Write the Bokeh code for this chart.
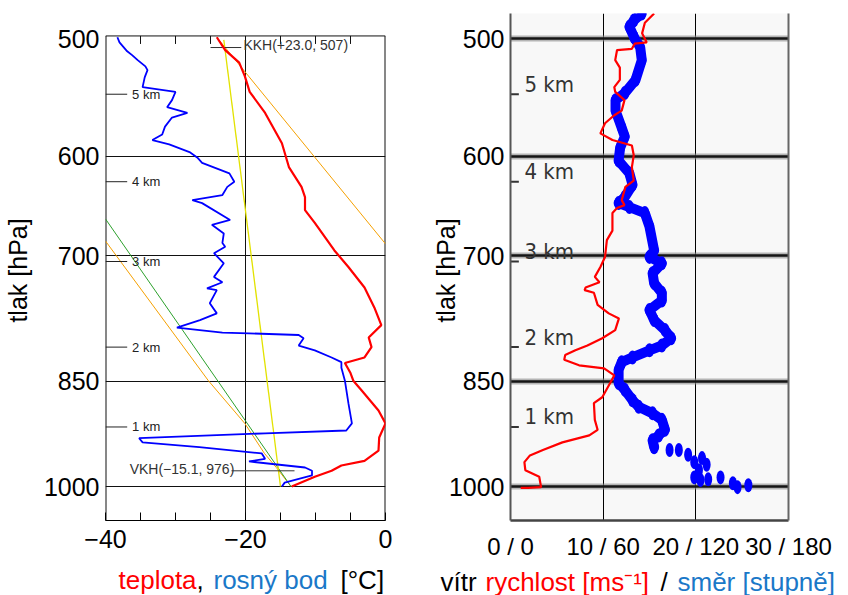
import numpy as np
from bokeh.plotting import figure
from bokeh.layouts import row, column
from bokeh.models import Range1d, FixedTicker, LinearAxis, Grid, BasicTickFormatter
from bokeh.core.properties import value
from bokeh.embed import file_html
from bokeh.resources import INLINE

FONT = "Liberation Sans"

# ---------------- data ----------------
pressure_ticks = [500, 600, 700, 850, 1000]
temp_ticks = [-40, -20, 0]
temp_tick_labels = ["\u221240", "\u221220", "0"]
temp_minor_ticks = [-35, -30, -25, -15, -10, -5]
wind_ticks = [0, 10, 20, 30]
wind_tick_labels = ["0 / 0", "10 / 60", "20 / 120", "30 / 180"]
height_labels = ["5 km", "4 km", "3 km", "2 km", "1 km"]
height_p = [545, 624, 706, 806, 912]

# temperature (teplota)
temp_p = [1000, 985, 976, 968, 961, 946, 927, 907, 889, 862, 849, 839, 826, 819, 806, 794,
          779, 758, 735, 712, 694, 665, 652, 639, 629, 610, 588, 561, 543, 530, 519, 509, 499]
temp_T = [-13.4, -10.1, -7.7, -6.3, -3.0, -1.0, -0.9, 0.0, -1.0, -3.4, -4.6, -5.0, -5.8, -3.0, -2.0, -2.4,
          -0.6, -1.6, -3.0, -5.3, -7.3, -10.1, -11.5, -11.5, -12.0, -13.8, -14.8, -17.2, -19.4, -20.1, -20.9, -22.9, -24.1]

# dew point (rosny bod)
dew_p = [1000, 994, 983, 976, 971, 962, 958, 950, 941, 934, 928, 921, 917, 907, 879, 849, 832, 825,
         819, 810, 804, 795, 791, 789, 788, 782, 773, 765, 753, 738, 736, 729, 723, 708, 697, 690,
         686, 676, 667, 662, 645, 642, 637, 629, 624, 616, 606, 601, 596, 589, 585, 580, 573, 565,
         561, 556, 550, 543, 539, 531, 525, 522, 517, 513, 510, 503, 499]
dew_T = [-14.8, -14.4, -10.5, -10.5, -11.5, -19.5, -17.2, -17.7, -26.6, -34.7, -35.2, -17.2, -5.6, -4.8, -5.3, -5.8, -6.3, -6.3,
         -7.7, -10.1, -12.4, -11.7, -12.4, -19.5, -23.3, -29.8, -26.5, -24.1, -25.1, -24.1, -25.5, -23.3, -24.5, -23.1, -24.5, -22.9,
         -23.3, -23.1, -24.8, -22.2, -26.2, -27.6, -23.3, -22.6, -21.6, -22.3, -26.2, -26.9, -28.0, -30.9, -33.3, -31.9, -31.5, -30.5,
         -28.3, -31.2, -30.5, -30.0, -34.7, -34.4, -34.0, -34.3, -35.4, -36.2, -36.9, -38.0, -38.3]

dry_p = [1000, 661]
dry_T = [-13.5, -40.0]
mix_p = [1000, 501]
mix_T = [-15.0, -23.1]
moist_low_p = [1000, 971, 950, 907, 849, 684]
moist_low_T = [-13.5, -15.6, -17.3, -20.1, -25.3, -40.0]
moist_up_p = [501, 687]
moist_up_T = [-23.8, 0.0]

kkh_text = "KKH(+23.0, 507)"
kkh_p = 507
kkh_T = [-25.0, -20.6]
vkh_text = "VKH(\u221215.1, 976)"
vkh_p = 976
vkh_T = [-22.0, -13.0]

# wind speed (rychlost, m/s)
wind_p = [481, 488, 496, 503, 504, 508, 509, 517, 523, 533, 539, 543, 550, 559, 563, 570, 579, 585,
          590, 599, 610, 623, 629, 642, 647, 650, 655, 673, 683, 701, 712, 723, 729, 735, 738, 741,
          755, 765, 771, 785, 795, 804, 810, 816, 822, 829, 833, 842, 851, 871, 879, 902, 916, 924,
          934, 945, 953, 963, 975, 985, 1001, 1002, 1002]
wind_speed = [15.5, 14.5, 14.2, 14.7, 13.4, 13.1, 11.5, 11.3, 11.8, 11.8, 11.2, 11.3, 12.3, 12.0, 11.2, 10.2, 9.7, 11.0,
              13.1, 13.3, 13.1, 13.3, 12.4, 12.0, 12.3, 11.5, 11.0, 11.0, 10.4, 10.2, 9.7, 9.1, 9.6, 8.1, 8.0, 9.0,
              9.4, 10.6, 11.7, 11.3, 9.9, 8.3, 7.0, 5.9, 5.8, 7.4, 10.1, 11.2, 10.8, 9.9, 9.0, 9.1, 9.4, 8.5,
              5.6, 3.5, 2.1, 1.5, 1.6, 3.1, 3.3, 1.9, 1.1]

# wind direction (smer, degrees) - continuous band and separate points
dir_band_p = [481, 486, 491, 499, 507, 517, 533, 544, 550, 559, 574, 582, 592, 604, 616, 627, 639, 645,
              649, 655, 669, 694, 701, 708, 719, 730, 741, 750, 761, 773, 785, 795, 804, 810, 819, 825,
              835, 852, 861, 875, 884, 893, 902, 916, 924, 931, 941]
dir_band_deg = [85, 80, 77, 80, 84, 85, 81, 74, 68, 68, 72, 74, 71, 70, 77, 79, 74, 70,
                77, 87, 90, 93, 90, 98, 92, 93, 98, 98, 90, 93, 100, 104, 98, 90, 79, 72,
                70, 70, 74, 79, 83, 92, 98, 100, 96, 92, 93]
dir_pts_p = [945, 945, 952, 963, 957, 967, 975, 986, 990, 989, 986, 995, 1001, 998]
dir_pts_deg = [103, 109, 115, 119, 124, 127, 122, 119, 123, 128, 136, 144, 147, 154]

# left panel box (pressure limits of the temperature diagram)
box_top_p = 498
box_bottom_p = 1054

RED = "#ff0000"
BLUE = "#0000ff"
TBLUE = "#1a78c8"

P_RANGE = (1054, 481)
PX_PER_LN = 646.3  # pixels per unit of ln(p) on both panels

# ---------------- left panel ----------------
p1 = figure(width=428, height=565, x_range=Range1d(-40, 0), y_range=Range1d(*P_RANGE),
            y_axis_type="log", output_backend="svg", toolbar_location=None, title=None,
            min_border_left=103, min_border_right=43, min_border_top=13, min_border_bottom=45)
p1.background_fill_color = "white"
p1.border_fill_color = "white"
p1.outline_line_color = None

p1.xaxis.ticker = FixedTicker(ticks=temp_ticks, minor_ticks=temp_minor_ticks)
p1.xaxis.major_label_overrides = dict(zip(temp_ticks, temp_tick_labels))
p1.xaxis.major_tick_in = 8
p1.xaxis.major_tick_out = 0
p1.xaxis.minor_tick_in = 8
p1.xaxis.minor_tick_out = 0
p1.xaxis.major_label_text_font = FONT
p1.xaxis.major_label_text_font_size = "25px"
p1.xaxis.major_label_text_color = "black"
p1.xaxis.major_label_standoff = 9
p1.xaxis.axis_line_color = "black"

p1.yaxis.ticker = FixedTicker(ticks=pressure_ticks)
p1.yaxis.formatter = BasicTickFormatter()
p1.yaxis.major_tick_in = 0
p1.yaxis.major_tick_out = 0
p1.yaxis.minor_tick_line_color = None
p1.yaxis.major_label_text_font = FONT
p1.yaxis.major_label_text_font_size = "25px"
p1.yaxis.major_label_text_color = "black"
p1.yaxis.major_label_standoff = 6
p1.yaxis.axis_line_color = None
p1.yaxis.axis_label = "tlak  [hPa]"
p1.yaxis.axis_label_text_font = FONT
p1.yaxis.axis_label_text_font_size = "25px"
p1.yaxis.axis_label_text_font_style = "normal"
p1.yaxis.axis_label_text_color = "black"
p1.yaxis.axis_label_standoff = 9

p1.xgrid.visible = False
p1.ygrid.ticker = FixedTicker(ticks=pressure_ticks[1:])
p1.ygrid.grid_line_color = "#111111"
p1.ygrid.grid_line_width = 1

# panel box, -20 grid line and top ticks
p1.segment(x0=temp_ticks, x1=temp_ticks, y0=[box_top_p] * 3, y1=[box_bottom_p] * 3,
           line_color="#111111", line_width=[2, 1, 2])
p1.segment(x0=[temp_ticks[0]], x1=[temp_ticks[-1]], y0=[box_top_p], y1=[box_top_p],
           line_color="#111111", line_width=1)
p1.segment(x0=temp_minor_ticks, x1=temp_minor_ticks, y0=[box_top_p] * len(temp_minor_ticks),
           y1=[box_top_p * np.exp(8 / PX_PER_LN)] * len(temp_minor_ticks), line_color="#111111", line_width=1)

# reference lines
p1.line(moist_up_T, moist_up_p, line_color="#f5a000", line_width=1)
p1.line(moist_low_T, moist_low_p, line_color="#f5a000", line_width=1)
p1.line(dry_T, dry_p, line_color="#2ca02c", line_width=1)
p1.line(mix_T, mix_p, line_color="#e2e200", line_width=1.3)

# height markers
p1.segment(x0=[-40.0] * len(height_p), x1=[-36.9] * len(height_p), y0=height_p, y1=height_p,
           line_color="#222222", line_width=1)
p1.text(x=[-36.2] * len(height_p), y=height_p, text=height_labels, text_font=value(FONT),
        text_font_size="13px", text_color="#222222", text_baseline="middle", text_align="left")

# KKH / VKH markers
p1.line(kkh_T, [kkh_p, kkh_p], line_color="#333333", line_width=1)
p1.text(x=[kkh_T[1] + 0.3], y=[kkh_p - 2], text=[kkh_text], text_font=value(FONT),
        text_font_size="14px", text_color="#333333", text_baseline="middle", text_align="left")
p1.line(vkh_T, [vkh_p, vkh_p], line_color="#333333", line_width=1)
p1.text(x=[vkh_T[0] + 0.4], y=[vkh_p - 3], text=[vkh_text], text_font=value(FONT),
        text_font_size="14px", text_color="#333333", text_baseline="middle", text_align="right")

# profiles
p1.line(dew_T, dew_p, line_color=BLUE, line_width=1.8)
p1.line(temp_T, temp_p, line_color=RED, line_width=2.2)

# ---------------- right panel ----------------
p2 = figure(width=420, height=565, x_range=Range1d(0, 30), y_range=Range1d(*P_RANGE),
            y_axis_type="log", output_backend="svg", toolbar_location=None, title=None,
            min_border_left=80, min_border_right=60, min_border_top=13, min_border_bottom=45)
p2.background_fill_color = "#f8f8f8"
p2.border_fill_color = "white"
p2.outline_line_color = None

p2.xaxis.ticker = FixedTicker(ticks=wind_ticks)
p2.xaxis.major_label_overrides = dict(zip(wind_ticks, wind_tick_labels))
p2.xaxis.major_tick_in = 0
p2.xaxis.major_tick_out = 0
p2.xaxis.minor_tick_line_color = None
p2.xaxis.major_label_text_font = FONT
p2.xaxis.major_label_text_font_size = "24px"
p2.xaxis.major_label_text_color = "black"
p2.xaxis.major_label_standoff = 12
p2.xaxis.axis_line_color = "#444444"
p2.xaxis.axis_line_width = 2.5

p2.yaxis.ticker = FixedTicker(ticks=pressure_ticks)
p2.yaxis.formatter = BasicTickFormatter()
p2.yaxis.major_tick_in = 0
p2.yaxis.major_tick_out = 0
p2.yaxis.minor_tick_line_color = None
p2.yaxis.major_label_text_font = FONT
p2.yaxis.major_label_text_font_size = "25px"
p2.yaxis.major_label_text_color = "black"
p2.yaxis.major_label_standoff = 6
p2.yaxis.axis_line_color = "#555555"
p2.yaxis.axis_line_width = 2
p2.yaxis.axis_label = "tlak  [hPa]"
p2.yaxis.axis_label_text_font = FONT
p2.yaxis.axis_label_text_font_size = "25px"
p2.yaxis.axis_label_text_font_style = "normal"
p2.yaxis.axis_label_text_color = "black"
p2.yaxis.axis_label_standoff = -14

right_axis = LinearAxis(ticker=FixedTicker(ticks=[]), major_tick_in=0, major_tick_out=0,
                        minor_tick_in=0, minor_tick_out=0, axis_line_color="#666666",
                        axis_line_width=2)
p2.add_layout(right_axis, "right")

p2.xgrid.ticker = FixedTicker(ticks=[10, 20])
p2.xgrid.grid_line_color = "black"
p2.xgrid.grid_line_width = 1
p2.ygrid.ticker = FixedTicker(ticks=pressure_ticks)
p2.ygrid.grid_line_color = "#888888"
p2.ygrid.grid_line_alpha = 0.6
p2.ygrid.grid_line_width = 6
dark_grid = Grid(dimension=1, ticker=FixedTicker(ticks=pressure_ticks),
                 grid_line_color="#151515", grid_line_width=2.5)
p2.add_layout(dark_grid, "center")

# height markers (label sits just above its tick)
p2.segment(x0=[0.0] * len(height_p), x1=[0.9] * len(height_p), y0=height_p, y1=height_p,
           line_color="#333333", line_width=2)
label_p = np.array(height_p) * np.exp(-10 / PX_PER_LN)
p2.text(x=[1.5] * len(height_p), y=label_p, text=height_labels,
        text_font=value("'Liberation Sans Narrow', 'DejaVu Sans Condensed', 'Roboto Condensed', sans-serif"),
        text_font_size="22px", text_color="#333333", text_baseline="middle", text_align="left")

# wind direction (scaled: 6 degrees per unit of the speed axis)
band_x = np.array(dir_band_deg) / 6.0
pts_x = np.array(dir_pts_deg) / 6.0
p2.line(band_x, dir_band_p, line_color=BLUE, line_width=10, line_join="round", line_cap="round")
p2.ellipse(x=band_x, y=dir_band_p, width=9, height=14, width_units="screen",
           height_units="screen", fill_color=BLUE, line_color=None)
p2.ellipse(x=pts_x, y=dir_pts_p, width=8, height=14, width_units="screen",
           height_units="screen", fill_color=BLUE, line_color=None)

# wind speed
p2.line(wind_speed, wind_p, line_color=RED, line_width=2.2)

# ---------------- axis titles (coloured) ----------------
title_text = ["teplota", ",", "rosný bod", "[°C]",
              "vítr", "rychlost [ms\u207b\u00b9]", "/", "směr [stupně]"]
title_color = [RED, "black", TBLUE, "black", "black", RED, "black", TBLUE]
title_x = [118, 196, 213, 340, 440, 485, 660, 677]
title_y = [579, 579, 579, 579, 581, 581, 581, 581]   # vertical centre of the text line

p3 = figure(width=848, height=30, x_range=Range1d(0, 848), y_range=Range1d(595, 565),
            output_backend="svg", toolbar_location=None, x_axis_location=None,
            y_axis_location=None, title=None, min_border=0, min_border_left=0,
            min_border_right=0, min_border_top=0, min_border_bottom=0)
p3.outline_line_color = None
p3.grid.visible = False
p3.background_fill_color = "white"
p3.border_fill_color = "white"
p3.text(x=title_x, y=title_y, text=title_text, text_color=title_color, text_font=value(FONT),
        text_font_size="26px", text_align="left", text_baseline="middle")

layout = column(row(p1, p2), p3)
open("out.html", "w").write(file_html(layout, INLINE))
